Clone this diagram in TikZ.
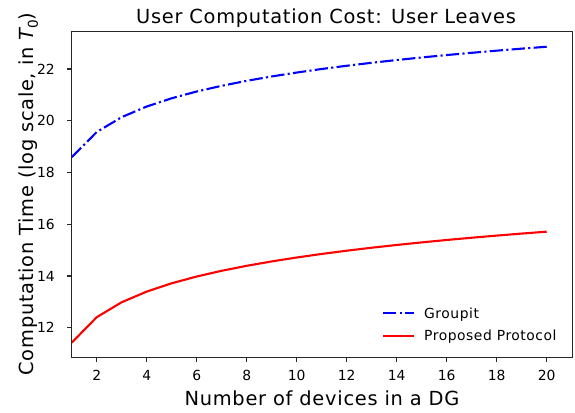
\documentclass[tikz,border=0pt]{standalone}
\usepackage{fontspec}
\setmainfont{DejaVu Sans}
\newfontfamily\widefont{DejaVu Sans}[LetterSpace=3.8]
\begin{document}
\begin{tikzpicture}[x=1pt,y=1pt,
  spine/.style={draw=black!85, line width=1.1pt},
  tickmark/.style={draw=black!85, line width=1.1pt},
  ticklabel/.style={font=\fontsize{13.9}{16}\selectfont, inner sep=0pt},
  biglabel/.style={font=\widefont\fontsize{19.4}{22}\selectfont, inner sep=0pt},
  legendtext/.style={font=\widefont\fontsize{13.9}{16}\selectfont, inner sep=0pt, anchor=base west},
  groupit/.style={draw=blue, line width=2.1pt, dash pattern=on 13.3pt off 3.3pt on 2.1pt off 3.3pt},
  proposed/.style={draw=red, line width=2.1pt}]
\useasboundingbox (0,0) rectangle (575,412);

% data frame: x = number of devices, y = log2 of the cost
\begin{scope}[x=25pt, y=25.87pt, shift={(46.7pt,-226.14pt)}]
  \coordinate (ll) at (1,10.856);
  \coordinate (ur) at (21.03,23.44);

  % curves
  \draw[groupit, line join=round]
    plot[domain=1:20, samples=20] (\x,{ln(\x+0.0392)/ln(2)+18.535});
  \draw[proposed, line join=round]
    plot[domain=1:20, samples=20] (\x,{ln(\x+0.0224)/ln(2)+11.388});

  % x ticks
  \foreach \n in {2,4,...,20} {
    \draw[tickmark] (\n,10.856) -- ++(0,-4.9pt);
    \node[ticklabel, anchor=north] at ([yshift=-12.7pt]\n,10.856) {\n};
  }
  % y ticks
  \foreach \v in {12,14,...,22} {
    \draw[tickmark] (1,\v) -- ++(-4.9pt,0);
    \node[ticklabel, anchor=east] at ([xshift=-16.7pt]1,\v) {\v};
  }
\end{scope}

% axes frame
\draw[spine] (ll) rectangle (ur);

% title and axis labels
\node[biglabel, anchor=base] (title) at (326,388.7) {User Computation Cost: User Leaves};
\node[biglabel, anchor=base] (xlab) at (322,7) {Number of devices in a DG};
\node[biglabel, anchor=base, rotate=90] (ylab) at (33,218)
  {Computation Time (log scale, in {\itshape T}\raisebox{-0.25em}{\fontsize{13.6}{15}\selectfont 0})};

% legend
\coordinate (g1) at (383,98.7);
\coordinate (g2) at (414,98.7);
\coordinate (p1) at (383,76.3);
\coordinate (p2) at (414,76.3);
\draw[groupit] (g1) -- (g2);
\draw[proposed] (p1) -- (p2);
\node[legendtext] (gtext) at (424,93.7) {Groupit};
\node[legendtext] (ptext) at (424,71.3) {Proposed Protocol};
\end{tikzpicture}
\end{document}
